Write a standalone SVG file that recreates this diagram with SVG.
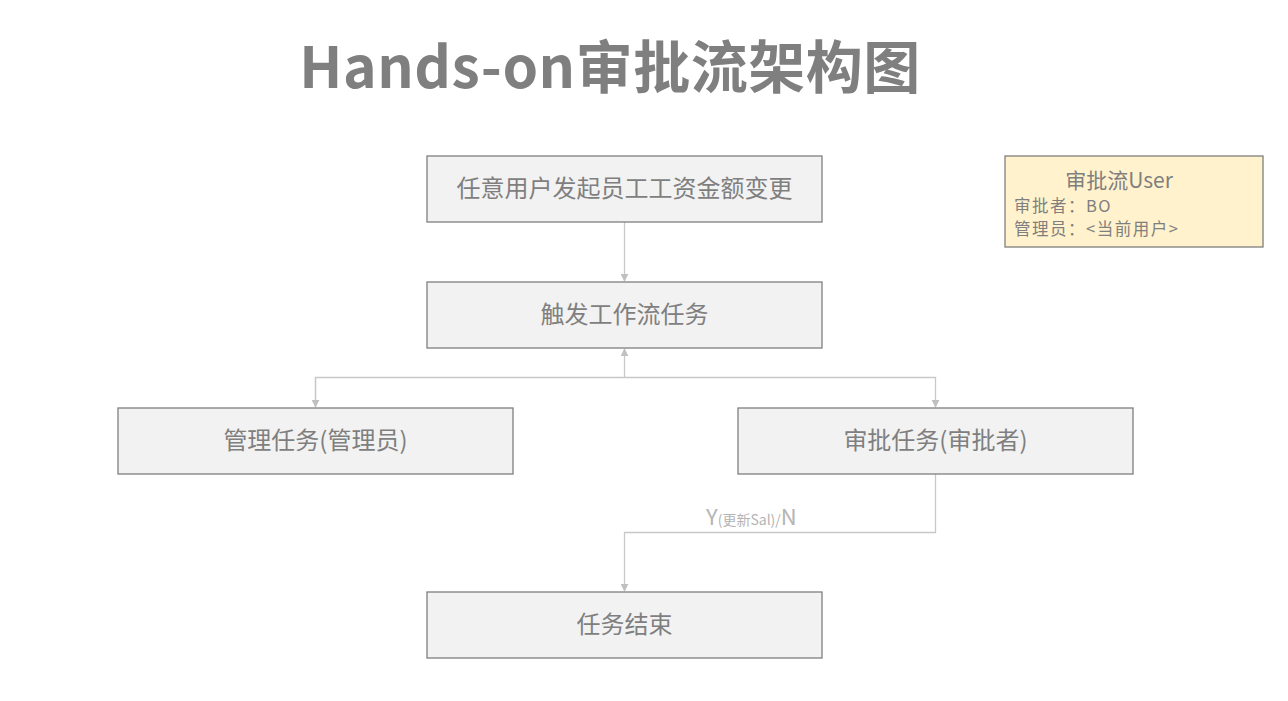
<svg xmlns="http://www.w3.org/2000/svg" width="1288" height="701" viewBox="0 0 1288 701">
<defs>
<style>
.box{fill:#f2f2f2;stroke:#7f7f7f;stroke-width:1.3}
.t{font-family:"Noto Sans CJK SC","Noto Sans",sans-serif;fill:#7f7f7f;font-size:24px;text-anchor:middle}
.c{fill:none;stroke:#c8c8c8;stroke-width:1.3}
.note{font-family:"Noto Sans CJK SC","Noto Sans",sans-serif;fill:#7f7f7f;font-size:16.5px;letter-spacing:1.5px}
</style>
<marker id="ah" viewBox="0 0 10 10" refX="9" refY="5" markerWidth="8" markerHeight="8" orient="auto" markerUnits="userSpaceOnUse">
<path d="M0,0 L10,5 L0,10 z" fill="#c0c0c0"/>
</marker>
</defs>
<rect width="1288" height="701" fill="#ffffff"/>
<text x="610" y="88" font-family="'Noto Sans CJK SC','Noto Sans',sans-serif" font-size="57" font-weight="bold" fill="#7f7f7f" text-anchor="middle" letter-spacing="0.5">Hands-on审批流架构图</text>

<g id="connectors">
<path class="c" d="M624.5,222 V281" marker-end="url(#ah)"/>
<path class="c" d="M624.5,377.5 V349" marker-end="url(#ah)"/>
<path class="c" d="M315.5,407 V377.5 H935.5 V407" marker-end="url(#ah)"/>
<path class="c" d="M315.5,377.5 V407" marker-end="url(#ah)"/>
<path class="c" d="M935.5,474 V532.5 H624.5 V591" marker-end="url(#ah)"/>
<text x="706" y="525" font-family="'Noto Sans CJK SC','Noto Sans',sans-serif" fill="#b4b4b4" font-size="22">Y<tspan font-size="14">(更新Sal)/</tspan>N</text>
</g>

<g id="n1"><rect class="box" x="427" y="156" width="395" height="66"/><text class="t" x="624.5" y="197">任意用户发起员工工资金额变更</text></g>
<g id="n2"><rect class="box" x="427" y="282" width="395" height="66"/><text class="t" x="624.5" y="323">触发工作流任务</text></g>
<g id="n3"><rect class="box" x="118" y="408" width="395" height="66"/><text class="t" x="315.5" y="449">管理任务(管理员)</text></g>
<g id="n4"><rect class="box" x="738" y="408" width="395" height="66"/><text class="t" x="935.5" y="449">审批任务(审批者)</text></g>
<g id="n5"><rect class="box" x="427" y="592" width="395" height="66"/><text class="t" x="624.5" y="633">任务结束</text></g>

<g id="note">
<rect x="1005" y="156" width="258" height="91" fill="#fff2cc" stroke="#7f7f7f" stroke-width="1.3"/>
<text class="note" x="1119" y="188" style="font-size:21px;letter-spacing:0" text-anchor="middle">审批流User</text>
<text class="note" x="1014" y="212">审批者：BO</text>
<text class="note" x="1014" y="235">管理员：&lt;当前用户&gt;</text>
</g>
</svg>
